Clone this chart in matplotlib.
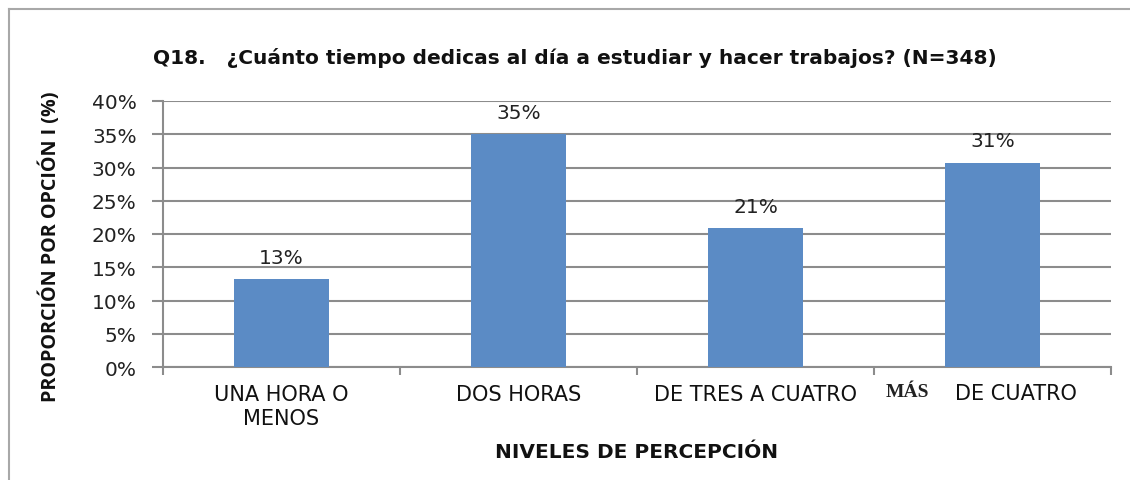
import matplotlib.pyplot as plt
from matplotlib.lines import Line2D
from matplotlib.transforms import blended_transform_factory
import numpy as np

categorias = ["UNA HORA O\nMENOS", "DOS HORAS", "DE TRES A CUATRO", "DE CUATRO"]
valores = [13.2, 35.0, 20.9, 30.7]
etiquetas = ["13%", "35%", "21%", "31%"]
yticks = [0, 5, 10, 15, 20, 25, 30, 35, 40]

plt.rcParams["font.family"] = "DejaVu Sans"

W, H = 1130, 481
fig = plt.figure(figsize=(W / 100, H / 100), dpi=100)
ax = fig.add_axes([163 / W, 1 - 368 / H, (1111 - 163) / W, (368 - 102) / H])

x = np.arange(len(valores))
ax.bar(x, valores, width=0.4, color="#5b8bc5", zorder=3)
for xi, v, t in zip(x, valores, etiquetas):
    ax.annotate(t, (xi, v), xytext=(0, 9), textcoords="offset points",
                ha="center", va="bottom", fontsize=14.5, color="#222222")

ax.set_xlim(-0.5, len(valores) - 0.5)
ax.set_ylim(0, 40)
ax.set_yticks(yticks)
ax.set_yticklabels([f"{t}%" for t in yticks], fontsize=14.5, color="#222222")
ax.yaxis.grid(True, color="#8c8c8c", linewidth=1.5, zorder=0)
ax.set_axisbelow(True)
ax.tick_params(axis="y", length=8, color="#8c8c8c", width=1.5, pad=11)

# category boundaries as ticks
ax.set_xticks(np.arange(len(valores) + 1) - 0.5, minor=False)
ax.set_xticklabels([])
ax.tick_params(axis="x", length=6, color="#8c8c8c", width=1.5)
ax.set_xticks(x, minor=True)
ax.set_xticklabels(categorias[:3] + [""], minor=True, fontsize=15, color="#111111",
                   linespacing=1.3)
ax.tick_params(axis="x", which="minor", length=0, pad=12)

tr = blended_transform_factory(ax.transData, ax.transAxes)
ax.text(x[3] + 0.1, -0.062, categorias[3], transform=tr, ha="center", va="top",
        fontsize=15, color="#111111")
ax.text(x[3] - 0.36, -0.062, "MÁS", transform=tr, ha="center", va="top",
        fontsize=14, fontweight="bold", family="Liberation Serif", color="#222222")

for s in ["top", "right"]:
    ax.spines[s].set_visible(False)
for s in ["left", "bottom"]:
    ax.spines[s].set_color("#8c8c8c")
    ax.spines[s].set_linewidth(1.5)

fig.text(575 / W, 1 - 58 / H, "Q18.   ¿Cuánto tiempo dedicas al día a estudiar y hacer trabajos? (N=348)",
         ha="center", va="center", fontsize=14.5, fontweight="bold", color="#111111")
ax.set_xlabel("NIVELES DE PERCEPCIÓN", fontsize=14.5, fontweight="bold",
              labelpad=10, color="#111111")
ax.set_ylabel("PROPORCIÓN POR OPCIÓN I (%)", fontsize=14.2, fontweight="bold",
              family="Open Sans", color="#111111")
ax.yaxis.set_label_coords(-0.108, 0.455)

# outer frame of the chart
fig.add_artist(Line2D([9 / W, 9 / W], [0, 1 - 10 / H], transform=fig.transFigure, color="#a8a8a8", lw=1.5))
fig.add_artist(Line2D([9 / W, 1], [1 - 10 / H, 1 - 10 / H], transform=fig.transFigure, color="#a8a8a8", lw=1.5))

fig.savefig("out.png", dpi=100)
